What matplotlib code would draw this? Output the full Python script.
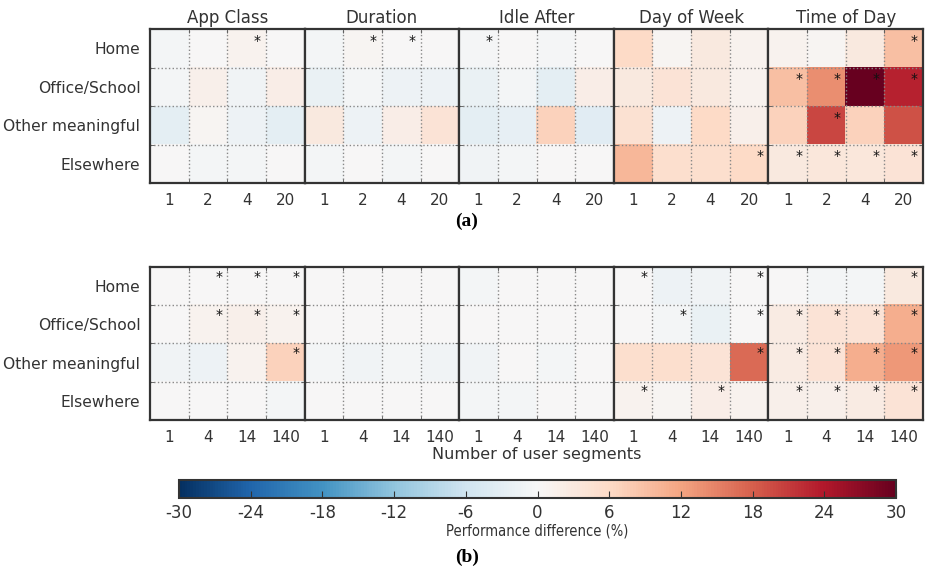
import numpy as np
import matplotlib.pyplot as plt
from matplotlib.cm import ScalarMappable
from matplotlib.colors import Normalize

plt.rcParams['axes.unicode_minus'] = False

rows = ['Home', 'Office/School', 'Other meaningful', 'Elsewhere']
features = ['App Class', 'Duration', 'Idle After', 'Day of Week', 'Time of Day']
segments_a = ['1', '2', '4', '20']
segments_b = ['1', '4', '14', '140']

# panel (a): performance difference (%), rows x segments, one block per feature
a_app = [[-0.5, 0, 1, 0], [-0.5, 1.5, -1, 2], [-3, 0.5, -1.5, -3], [0, -0.5, -0.5, 0]]
a_dur = [[-0.5, 0.5, 0, 0], [-2, -0.5, -1.5, -1.5], [3, -1.5, 2, 4], [-0.5, 0, -0.5, 0]]
a_idle = [[-0.3, 0, -0.3, 0], [-2, -0.5, -3, 2], [-3, -2.5, 7, -3.5], [-1, -0.5, 0, 0]]
a_dow = [[6, 0.5, 3, 1], [3, 4, 3, 1], [4.5, -1.5, 6, 1.5], [10, 5, 5, 6]]
a_tod = [[1, 0.5, 3, 9], [9, 14, 30, 23], [7, 20, 7, 19], [3, 3.5, 3.5, 4]]

# panel (b)
b_app = [[0, 0, 0, 0], [0, 1, 1.5, 1], [-1, -1.5, 1, 7], [0, 0, 0, -0.5]]
b_dur = [[0, 0, 0, 0], [0, 0, 0, 0], [-0.5, -1, -0.5, -1], [0, 0, 0, 0]]
b_idle = [[-0.5, 0, 0, 0], [0, 0, 0, 0], [-1, 0, -0.5, 0], [-0.5, -0.5, 0, 0]]
b_dow = [[0, -1.5, -1, 0], [0, -0.5, -2, 0], [5, 5, 4, 17], [1, 0.5, 2, 1]]
b_tod = [[0, -0.5, -0.5, 3], [2.5, 4, 4, 11], [2.5, 4, 11, 13], [1.5, 1.5, 2.5, 4]]

# significant cells (row, col)
a_app_sig = [(0, 2)]
a_dur_sig = [(0, 1), (0, 2)]
a_idle_sig = [(0, 0)]
a_dow_sig = [(3, 3)]
a_tod_sig = [(0, 3), (1, 0), (1, 1), (1, 2), (1, 3), (2, 1), (3, 0), (3, 1), (3, 2), (3, 3)]

b_app_sig = [(0, 1), (0, 2), (0, 3), (1, 1), (1, 2), (1, 3), (2, 3)]
b_dur_sig = []
b_idle_sig = []
b_dow_sig = [(0, 0), (0, 3), (1, 1), (1, 3), (2, 3), (3, 0), (3, 2)]
b_tod_sig = [(0, 3), (1, 0), (1, 1), (1, 2), (1, 3), (2, 0), (2, 1), (2, 2), (2, 3),
             (3, 0), (3, 1), (3, 2), (3, 3)]

panel_a = [a_app, a_dur, a_idle, a_dow, a_tod]
panel_b = [b_app, b_dur, b_idle, b_dow, b_tod]
sig_a = [a_app_sig, a_dur_sig, a_idle_sig, a_dow_sig, a_tod_sig]
sig_b = [b_app_sig, b_dur_sig, b_idle_sig, b_dow_sig, b_tod_sig]

cmap = plt.get_cmap('RdBu_r')
norm = Normalize(-30, 30)
txt = '#333333'

fig = plt.figure(figsize=(9.27, 5.75), dpi=100)

x0, x1 = 150 / 927, 923 / 927
w = (x1 - x0) / 5


def draw_panel(blocks, sigs, labels, top, bottom, titles, star_dy):
    for k, (vals, sig) in enumerate(zip(blocks, sigs)):
        ax = fig.add_axes([x0 + k * w, bottom, w, top - bottom])
        ax.imshow(np.array(vals), cmap=cmap, norm=norm, aspect='auto',
                  interpolation='nearest', extent=(-0.5, 3.5, 3.5, -0.5))
        ax.set_xticks(range(4))
        ax.set_xticklabels(labels)
        ax.set_xticks(np.arange(0.5, 3.5, 1), minor=True)
        if k == 0:
            ax.set_yticks(range(4))
            ax.set_yticklabels(rows)
        else:
            ax.set_yticks([])
        ax.set_yticks(np.arange(0.5, 3.5, 1), minor=True)
        ax.grid(which='minor', color='#888888', linestyle=':', linewidth=1)
        ax.tick_params(which='major', length=0, labelsize=11, labelcolor=txt, pad=7)
        ax.tick_params(axis='y', which='major', labelsize=11.2)
        ax.tick_params(which='minor', direction='in', length=3, color='#555555',
                       top=True, right=True)
        for s in ax.spines.values():
            s.set_linewidth(1.6)
            s.set_color('#333333')
        for (r, c) in sig:
            ax.text(c + 0.28, r + star_dy, '*', ha='center', va='center',
                    fontsize=10, color='#111111')
        if titles:
            ax.set_title(features[k], fontsize=12, color=txt, pad=4)


draw_panel(panel_a, sig_a, segments_a, 1 - 29 / 575, 1 - 183 / 575, True, -0.2)
draw_panel(panel_b, sig_b, segments_b, 1 - 267 / 575, 1 - 420 / 575, False, -0.25)

fig.text((x0 + x1) / 2, 1 - 455 / 575, 'Number of user segments', ha='center',
         va='center', fontsize=11.5, color=txt)
fig.text(467 / 927, 1 - 221 / 575, '(a)', ha='center', va='center', fontsize=14,
         fontweight='bold', family='Liberation Serif')
fig.text(467 / 927, 1 - 557 / 575, '(b)', ha='center', va='center', fontsize=14,
         fontweight='bold', family='Liberation Serif')

cax = fig.add_axes([179 / 927, 1 - 498 / 575, 717 / 927, 18 / 575])
cb = fig.colorbar(ScalarMappable(norm=norm, cmap=cmap), cax=cax,
                  orientation='horizontal', ticks=np.arange(-30, 31, 6))
cb.outline.set_linewidth(1.5)
cb.outline.set_edgecolor('#333333')
cax.tick_params(direction='in', length=5, color='#333333', labelsize=12,
                labelcolor=txt, pad=4)
fig.text((179 + 896) / 2 / 927, 1 - 531 / 575, 'Performance difference (%)',
         ha='center', va='center', fontsize=10.5, color=txt,
         fontstretch='condensed')

fig.savefig('out.png', dpi=100)
